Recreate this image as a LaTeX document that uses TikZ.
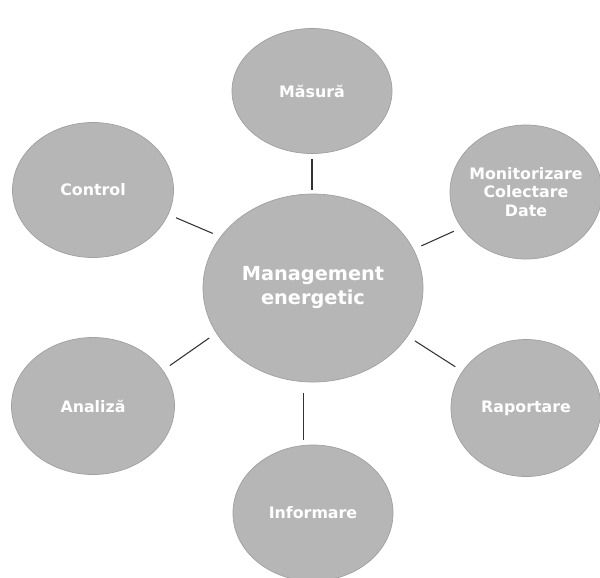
\documentclass[tikz,border=0pt]{standalone}
\usepackage{fontspec}
\setsansfont{DejaVu Sans}
\usetikzlibrary{shapes.geometric}
\definecolor{bulgray}{RGB}{182,182,182}
\definecolor{buledge}{RGB}{160,160,160}
\definecolor{linkgray}{RGB}{50,50,50}
\tikzset{
  bubble/.style={ellipse, draw=buledge, line width=0.6pt, fill=bulgray, inner sep=0pt,
    text=white, align=center, font=\sffamily\bfseries\fontsize{13.5}{16}\selectfont},
  link/.style={draw=linkgray, line width=0.9pt, shorten <=0.25cm, shorten >=0.25cm}
}

\begin{document}
\begin{tikzpicture}[x=0.03cm,y=-0.03cm]
        \useasboundingbox (0,0) rectangle (600,577);
        % Centru
        \node[bubble, minimum width=6.6cm, minimum height=5.64cm,
          font=\sffamily\bfseries\fontsize{16.5}{20.5}\selectfont] (mgmt) at (313,288) {Management\\energetic};
        % Componente
        \node[bubble, minimum width=4.8cm, minimum height=3.75cm] (masura) at (312,91) {Măsură};
        \node[bubble, minimum width=4.83cm, minimum height=4.05cm] (control) at (93,190) {Control};
        \node[bubble, minimum width=4.56cm, minimum height=4.02cm, inner xsep=-3pt] (monit) at (526,192) {Monitorizare\\Colectare\\Date};
        \node[bubble, minimum width=4.89cm, minimum height=4.11cm] (analiza) at (93,406) {Analiză};
        \node[bubble, minimum width=4.5cm, minimum height=4.11cm] (raport) at (526,408) {Raportare};
        \node[bubble, minimum width=4.8cm, minimum height=4.08cm] (inform) at (313,513) {Informare};
        % Legaturi
        \draw[link, shorten <=0.15cm, shorten >=0.1cm] (masura.south) -- (masura.south |- mgmt.north);
        \draw[link] (control.342) -- (mgmt.151);
        \draw[link] (monit.209) -- (mgmt.21);
        \draw[link] (analiza.27) -- (mgmt.205);
        \draw[link] (raport.150) -- (mgmt.333);
        \draw[link, shorten <=0.32cm, shorten >=0.15cm] (mgmt.264) -- (mgmt.264 |- inform.north);
      \end{tikzpicture}
\end{document}
